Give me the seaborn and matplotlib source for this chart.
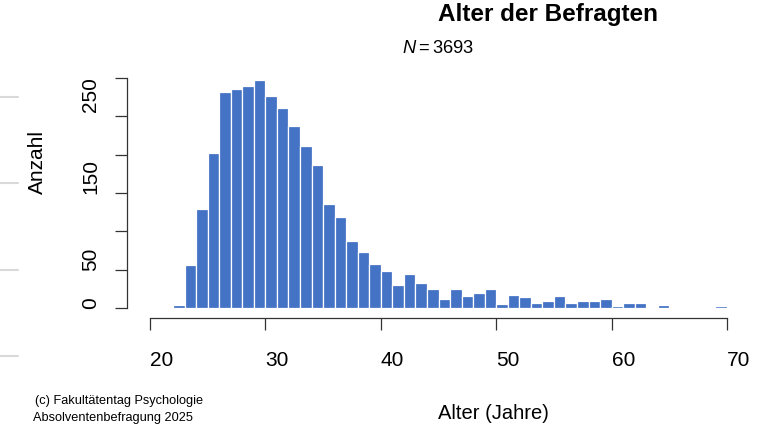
import matplotlib
matplotlib.use("Agg")
import pandas as pd
import matplotlib.pyplot as plt
import seaborn as sns
from matplotlib.lines import Line2D
from matplotlib.transforms import ScaledTranslation

# Häufigkeiten je Altersjahr
alter = list(range(22, 70))
anzahl = [4, 56, 129, 202, 282, 286, 289, 298, 277, 261,
          238, 211, 187, 136, 119, 88, 73, 57, 48, 30,
          44, 32, 25, 12, 25, 16, 19, 25, 5, 17,
          14, 7, 9, 16, 7, 9, 9, 12, 3, 7,
          7, 0, 4, 0, 0, 1, 0, 3]
kanten = list(range(22, 71))

x_ticks = [20, 30, 40, 50, 60, 70]
y_ticks = [0, 50, 100, 150, 200, 250, 300]
y_labels = ["0", "50", "", "150", "", "250", ""]
n_gesamt = 3693

W, H = 768, 427


def fx(px):
    return px / W


def fy(py):
    return 1 - py / H


sns.set_style("white")
plt.rcParams["font.family"] = ["Liberation Sans", "DejaVu Sans"]
plt.rcParams["text.color"] = "black"
plt.rcParams["mathtext.fontset"] = "custom"
plt.rcParams["mathtext.rm"] = "Liberation Sans"
plt.rcParams["mathtext.it"] = "Liberation Sans:italic"

fig = plt.figure(figsize=(7.68, 4.27), dpi=100)
ax = fig.add_axes([fx(150), fy(309), (727 - 150) / W, (309 - 79) / H])

df = pd.DataFrame({"alter": alter, "anzahl": anzahl})
sns.histplot(data=df, x="alter", weights="anzahl", bins=kanten,
             color="#4472C4", alpha=1, edgecolor="white", linewidth=0.9, ax=ax)

ax.set_xlim(20, 70)
ax.set_ylim(0, 300)
ax.set_xlabel("")
ax.set_ylabel("")

# R-artige Achsen: abgesetzt, nur links und unten
for s in ["top", "right"]:
    ax.spines[s].set_visible(False)
ax.spines["left"].set_position(("outward", 23 * 0.72))
ax.spines["bottom"].set_position(("outward", 10 * 0.72))
ax.spines["left"].set_bounds(0, 300)
ax.spines["bottom"].set_bounds(20, 70)
for s in ["left", "bottom"]:
    ax.spines[s].set_color("#333333")
    ax.spines[s].set_linewidth(0.9)

ax.set_xticks(x_ticks)
ax.set_xticklabels([str(t) for t in x_ticks], ha="left")
ax.set_yticks(y_ticks)
ax.set_yticklabels(y_labels, rotation=90, va="bottom")
ax.tick_params(axis="both", direction="out", length=8.6, width=0.9,
               color="#333333", labelsize=15, labelcolor="black",
               bottom=True, left=True)
ax.tick_params(axis="x", pad=14.5)
ax.tick_params(axis="y", pad=10.8)

# die "250" sitzt in der Vorlage etwas höher
lab = ax.get_yticklabels()[5]
lab.set_transform(lab.get_transform() + ScaledTranslation(0, 0.05, fig.dpi_scale_trans))

# Beschriftungen
fig.text(fx(438), fy(21), "Alter der Befragten", fontsize=17.5, fontweight="bold",
         ha="left", va="baseline")
fig.text(fx(438), fy(53), rf"$N = {n_gesamt}$", fontsize=13.2, ha="center", va="baseline")
fig.text(fx(37), fy(194), "Anzahl", fontsize=15, rotation=90, ha="center", va="bottom")
fig.text(fx(438), fy(419), "Alter (Jahre)", fontsize=14.5, ha="left", va="baseline")
fig.text(fx(35), fy(404), "(c) Fakultätentag Psychologie", fontsize=9.2, ha="left", va="baseline")
fig.text(fx(33), fy(421), "Absolventenbefragung 2025", fontsize=9.2, ha="left", va="baseline")

# graue Striche am linken Rand
for py in [98, 184, 271, 357]:
    fig.add_artist(Line2D([0, fx(18)], [fy(py), fy(py)], transform=fig.transFigure,
                          color="#d9d9d9", linewidth=1.5))

fig.savefig("out.png", dpi=100)
